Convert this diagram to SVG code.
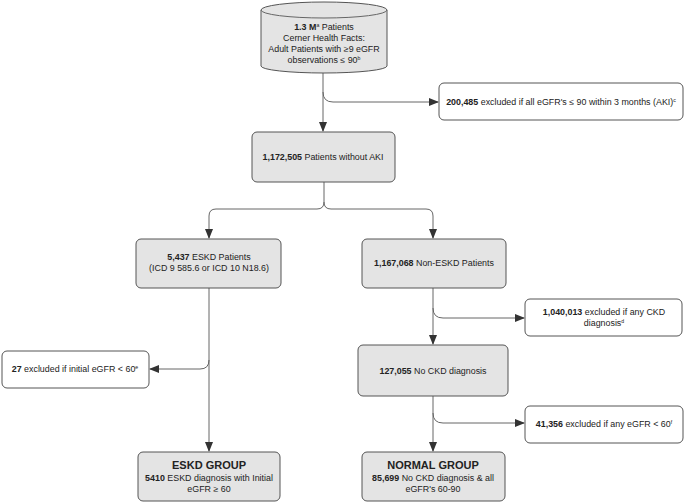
<svg xmlns="http://www.w3.org/2000/svg" width="685" height="504" viewBox="0 0 685 504">
<style>
text{font-family:"Liberation Sans",Arial,sans-serif;font-size:8.9px;fill:#222;text-anchor:middle}
.b{font-weight:bold}
.sup{font-size:5.2px}
.g{fill:#e4e4e4;stroke:#555;stroke-width:1}
.w{fill:#fff;stroke:#555;stroke-width:1}
.c{fill:none;stroke:#666;stroke-width:1}
.h{font-size:11px;font-weight:bold}
</style>
<defs>
<marker id="ah" markerWidth="10" markerHeight="8" refX="9" refY="4" orient="auto" markerUnits="userSpaceOnUse">
<path d="M0,0 L10,4 L0,8 Z" fill="#333"/>
</marker>
</defs>
<rect width="685" height="504" fill="#fff"/>
<g id="connectors">
<path class="c" d="M323,73 V131" marker-end="url(#ah)"/>
<path class="c" d="M323,92 Q323,102 333,102 H438" marker-end="url(#ah)"/>
<path class="c" d="M324,182 V202 Q324,209 317,209 H216 Q209,209 209,216 V238" marker-end="url(#ah)"/>
<path class="c" d="M324,202 Q324,209 331,209 H426 Q433,209 433,216 V238" marker-end="url(#ah)"/>
<path class="c" d="M209,288 V451" marker-end="url(#ah)"/>
<path class="c" d="M209,360 Q209,369 200,369 H150" marker-end="url(#ah)"/>
<path class="c" d="M433,288 V344" marker-end="url(#ah)"/>
<path class="c" d="M433,308 Q433,318 443,318 H524" marker-end="url(#ah)"/>
<path class="c" d="M433,396 V451" marker-end="url(#ah)"/>
<path class="c" d="M433,413 Q433,423 443,423 H524" marker-end="url(#ah)"/>
</g>
<g id="n_source">
<path class="g" d="M261,10 V66 A63,7 0 0 0 387,66 V10 A63,8 0 0 0 261,10 Z"/>
<path class="c" d="M261,10 A63,8 0 0 0 387,10" stroke="#555"/>
<text x="324" y="30"><tspan class="b">1.3 M</tspan><tspan class="sup" dy="-3">a</tspan><tspan dy="3"> Patients</tspan></text>
<text x="324" y="41">Cerner Health Facts:</text>
<text x="324" y="52">Adult Patients with ≥9 eGFR</text>
<text x="324" y="63">observations ≤ 90<tspan class="sup" dy="-3">b</tspan></text>
</g>
<g id="n_aki_excl">
<rect class="w" x="439" y="83" width="244" height="37" rx="5"/>
<text x="561" y="105"><tspan class="b">200,485</tspan> excluded if all eGFR's ≤ 90 within 3 months (AKI)<tspan class="sup" dy="-3">c</tspan></text>
</g>
<g id="n_noaki">
<rect class="g" x="252" y="132" width="143" height="50" rx="5"/>
<text x="323" y="160"><tspan class="b">1,172,505</tspan> Patients without AKI</text>
</g>
<g id="n_eskd">
<rect class="g" x="136" y="239" width="145" height="49" rx="5"/>
<text x="209" y="260"><tspan class="b">5,437</tspan> ESKD Patients</text>
<text x="209" y="271">(ICD 9 585.6 or ICD 10 N18.6)</text>
</g>
<g id="n_noneskd">
<rect class="g" x="362" y="239" width="144" height="49" rx="5"/>
<text x="434" y="266"><tspan class="b">1,167,068</tspan> Non-ESKD Patients</text>
</g>
<g id="n_ckd_excl">
<rect class="w" x="525" y="299" width="157" height="37" rx="5"/>
<text x="604" y="315"><tspan class="b">1,040,013</tspan> excluded if any CKD</text>
<text x="604" y="326">diagnosis<tspan class="sup" dy="-3">d</tspan></text>
</g>
<g id="n_initial_excl">
<rect class="w" x="2" y="351" width="147" height="37" rx="5"/>
<text x="75" y="372"><tspan class="b">27</tspan> excluded if initial eGFR &lt; 60<tspan class="sup" dy="-3">e</tspan></text>
</g>
<g id="n_nockd">
<rect class="g" x="358" y="345" width="150" height="51" rx="5"/>
<text x="433" y="374"><tspan class="b">127,055</tspan> No CKD diagnosis</text>
</g>
<g id="n_egfr_excl">
<rect class="w" x="525" y="406" width="158" height="37" rx="5"/>
<text x="604" y="427"><tspan class="b">41,356</tspan> excluded if any eGFR &lt; 60<tspan class="sup" dy="-3">f</tspan></text>
</g>
<g id="n_eskd_group">
<rect class="g" x="138" y="452" width="142" height="49" rx="5"/>
<text class="h" x="209" y="469">ESKD GROUP</text>
<text x="209" y="481"><tspan class="b">5410</tspan> ESKD diagnosis with Initial</text>
<text x="209" y="492">eGFR ≥ 60</text>
</g>
<g id="n_normal_group">
<rect class="g" x="362" y="452" width="143" height="49" rx="5"/>
<text class="h" x="433" y="469">NORMAL GROUP</text>
<text x="433" y="481"><tspan class="b">85,699</tspan> No CKD diagnosis &amp; all</text>
<text x="433" y="492">eGFR's 60-90</text>
</g>
</svg>
